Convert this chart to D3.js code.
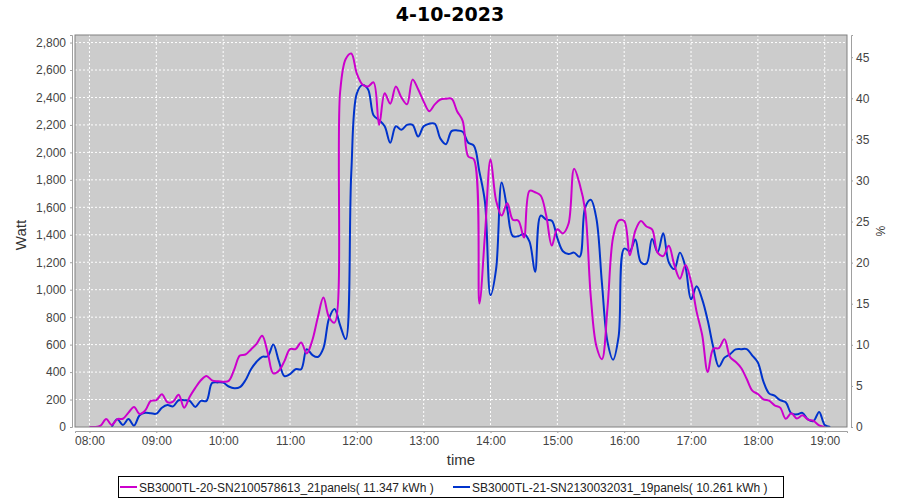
<!DOCTYPE html>
<html>
<head>
<meta charset="utf-8">
<script src="https://cdnjs.cloudflare.com/ajax/libs/d3/7.8.5/d3.min.js"></script>
<style>
body { margin: 0; background: #fff; }
svg { font-family: "Liberation Sans", Arial, sans-serif; }
.axis path, .axis line { stroke: #a0a0a0; }
.axis text { fill: #444; font-size: 12px; }
.grid line { stroke: #fff; stroke-dasharray: 2,2; }
</style>
</head>
<body>
<div id="chart"></div>
<script>
// 5 minute samples, one row per hour
let times = [
  "08:00","08:05","08:10","08:15","08:20","08:25","08:30","08:35","08:40","08:45","08:50","08:55",
  "09:00","09:05","09:10","09:15","09:20","09:25","09:30","09:35","09:40","09:45","09:50","09:55",
  "10:00","10:05","10:10","10:15","10:20","10:25","10:30","10:35","10:40","10:45","10:50","10:55",
  "11:00","11:05","11:10","11:15","11:20","11:25","11:30","11:35","11:40","11:45","11:50","11:55",
  "12:00","12:05","12:10","12:15","12:20","12:25","12:30","12:35","12:40","12:45","12:50","12:55",
  "13:00","13:05","13:10","13:15","13:20","13:25","13:30","13:35","13:40","13:45","13:50","13:55",
  "14:00","14:05","14:10","14:15","14:20","14:25","14:30","14:35","14:40","14:45","14:50","14:55",
  "15:00","15:05","15:10","15:15","15:20","15:25","15:30","15:35","15:40","15:45","15:50","15:55",
  "16:00","16:05","16:10","16:15","16:20","16:25","16:30","16:35","16:40","16:45","16:50","16:55",
  "17:00","17:05","17:10","17:15","17:20","17:25","17:30","17:35","17:40","17:45","17:50","17:55",
  "18:00","18:05","18:10","18:15","18:20","18:25","18:30","18:35","18:40","18:45","18:50","18:55",
  "19:00","19:05"
];

// SB3000TL-20 (Watt)
let inv20 = [
  0, 0, 10, 58, 15, 58, 60, 105, 146, 95, 120, 190,
  195, 238, 180, 185, 235, 141, 220, 285, 340, 372, 340, 333,
  330, 336, 420, 520, 528, 565, 605, 664, 540, 390, 410, 480,
  567, 567, 615, 536, 630, 800, 943, 800, 760, 2440, 2680, 2720,
  2574, 2495, 2480, 2510, 2200, 2430, 2355, 2480, 2400, 2350, 2530, 2460,
  2370, 2300, 2350, 2385, 2391, 2391, 2300, 2230, 1970, 1950, 900, 1400,
  1950, 1650, 1540, 1630, 1510, 1503, 1380, 1720, 1710, 1686, 1540, 1321,
  1440, 1410, 1480, 1880, 1770, 1576, 950, 590, 494, 870, 1380, 1503,
  1500, 1250, 1430, 1500, 1460, 1440, 1270, 1245, 1320, 1180, 1080, 1180,
  1060, 840, 670, 400, 570, 575, 640, 510, 475, 430, 350, 265,
  240, 202, 192, 158, 141, 60, 100, 62, 85, 54, 44, 12,
  0, null
];

// SB3000TL-21 (Watt)
let inv21 = [
  null, null, null, null, 0, 56, 15, 58, 10, 85, 104, 100,
  97, 140, 160, 150, 195, 195, 190, 146, 190, 190, 320, 325,
  323, 295, 282, 290, 340, 420, 475, 511, 515, 600, 480, 370,
  385, 421, 421, 567, 525, 510, 575, 790, 860, 740, 640, 1850,
  2430, 2490, 2460, 2270, 2235, 2190, 2070, 2190, 2165, 2200, 2200, 2115,
  2190, 2209, 2209, 2100, 2060, 2155, 2160, 2150, 2070, 2050, 1860, 1640,
  960, 1150, 1780, 1590, 1390, 1390, 1406, 1350, 1130, 1540, 1510, 1503,
  1375, 1280, 1260, 1270, 1240, 1600, 1655, 1520, 1050, 620, 490, 660,
  1300, 1280, 1365, 1200, 1190, 1369, 1272, 1411, 1200, 1150, 1270, 1165,
  930, 1025, 930, 775, 580, 440, 505, 530, 565, 567, 567, 520,
  470, 330, 245, 228, 195, 180, 100, 92, 103, 55, 44, 110,
  15, 0
];

let seriesNames = [
  "SB3000TL-20-SN2100578613_21panels( 11.347 kWh )",
  "SB3000TL-21-SN2130032031_19panels( 10.261 kWh )"
];
let wattTicks = [0, 200, 400, 600, 800, 1000, 1200, 1400, 1600, 1800, 2000, 2200, 2400, 2600, 2800];
let pctTicks = [0, 5, 10, 15, 20, 25, 30, 35, 40, 45];
let hourTicks = ["08:00","09:00","10:00","11:00","12:00","13:00","14:00","15:00","16:00","17:00","18:00","19:00"];

let colors = ["#cc00cc", "#0033cc"];

let plot = {left: 75, top: 35, right: 847, bottom: 427};

let parseTime = d3.timeParse("%H:%M");

let svg = d3.select("#chart").append("svg")
    .attr("width", 900)
    .attr("height", 500);

let x = d3.scaleTime()
    .domain([parseTime("07:47"), parseTime("19:20")])
    .range([plot.left, plot.right]);

let y = d3.scaleLinear().domain([0, 2855]).range([plot.bottom, plot.top]);
let yPct = d3.scaleLinear().domain([0, 47.7]).range([plot.bottom, plot.top]);

// title
svg.append("text")
    .attr("x", 450)
    .attr("y", 21)
    .attr("text-anchor", "middle")
    .style("font-family", "'DejaVu Sans', sans-serif")
    .style("font-weight", "bold")
    .style("font-size", "19px")
    .text("4-10-2023");

// plot background
svg.append("rect")
    .attr("x", plot.left)
    .attr("y", plot.top)
    .attr("width", plot.right - plot.left)
    .attr("height", plot.bottom - plot.top)
    .attr("fill", "#cccccc");

svg.append("clipPath").attr("id", "clip")
    .append("rect")
    .attr("x", plot.left)
    .attr("y", plot.top)
    .attr("width", plot.right - plot.left)
    .attr("height", plot.bottom - plot.top);

// grid
let grid = svg.append("g").attr("class", "grid");
grid.selectAll(".hgrid")
    .data(wattTicks.slice(1))
    .enter().append("line")
    .attr("x1", plot.left).attr("x2", plot.right)
    .attr("y1", d => y(d)).attr("y2", d => y(d));
grid.selectAll(".vgrid")
    .data(hourTicks)
    .enter().append("line")
    .attr("x1", d => x(parseTime(d))).attr("x2", d => x(parseTime(d)))
    .attr("y1", plot.top).attr("y2", plot.bottom);

// lines
let line = d3.line()
    .defined(d => d.v != null)
    .x(d => x(d.t))
    .y(d => y(d.v))
    .curve(d3.curveCatmullRom.alpha(0.5));

let series = [inv20, inv21].map(vals => vals.map((v, i) => ({t: parseTime(times[i]), v: v})));

let lines = svg.append("g").attr("clip-path", "url(#clip)");
// second series drawn first so the first one sits on top
[1, 0].forEach(function(k) {
    lines.append("path")
        .datum(series[k])
        .attr("fill", "none")
        .attr("stroke", colors[k])
        .attr("stroke-width", 2)
        .attr("stroke-linejoin", "round")
        .attr("d", line);
});

// plot border
svg.append("rect")
    .attr("x", plot.left)
    .attr("y", plot.top)
    .attr("width", plot.right - plot.left)
    .attr("height", plot.bottom - plot.top)
    .attr("fill", "none")
    .attr("stroke", "#808080");

// axes
svg.append("g")
    .attr("class", "axis")
    .attr("transform", "translate(" + (plot.left - 3) + ",0)")
    .call(d3.axisLeft(y).tickValues(wattTicks).tickFormat(d3.format(",")).tickSizeOuter(0).tickSize(2).tickPadding(4));

svg.append("g")
    .attr("class", "axis")
    .attr("transform", "translate(" + (plot.right + 4) + ",0)")
    .call(d3.axisRight(yPct).tickValues(pctTicks).tickSizeOuter(0).tickSize(2).tickPadding(3));

svg.append("g")
    .attr("class", "axis")
    .attr("transform", "translate(0," + (plot.bottom + 4) + ")")
    .call(d3.axisBottom(x).tickValues(hourTicks.map(parseTime)).tickFormat(d3.timeFormat("%H:%M")).tickSizeOuter(0).tickSize(2).tickPadding(3));

// axis titles
svg.append("text")
    .attr("transform", "translate(26,235) rotate(-90)")
    .attr("text-anchor", "middle")
    .style("font-size", "15px")
    .style("fill", "#333")
    .text("Watt");

svg.append("text")
    .attr("transform", "translate(876,231) rotate(90)")
    .attr("text-anchor", "middle")
    .style("font-size", "12px")
    .style("fill", "#333")
    .text("%");

svg.append("text")
    .attr("x", 461)
    .attr("y", 465)
    .attr("text-anchor", "middle")
    .style("font-size", "15px")
    .style("fill", "#333")
    .text("time");

// legend
let legend = svg.append("g");
legend.append("rect")
    .attr("x", 118.5)
    .attr("y", 476.5)
    .attr("width", 665)
    .attr("height", 21)
    .attr("fill", "#fff")
    .attr("stroke", "#000");

let legendX = [120, 453];
seriesNames.forEach(function(name, k) {
    legend.append("line")
        .attr("x1", legendX[k]).attr("x2", legendX[k] + 17)
        .attr("y1", 487).attr("y2", 487)
        .attr("stroke", colors[k])
        .attr("stroke-width", 2);
    legend.append("text")
        .attr("x", legendX[k] + 19)
        .attr("y", 491.5)
        .style("font-size", "12px")
        .style("fill", "#222")
        .text(name);
});
</script>
</body>
</html>
